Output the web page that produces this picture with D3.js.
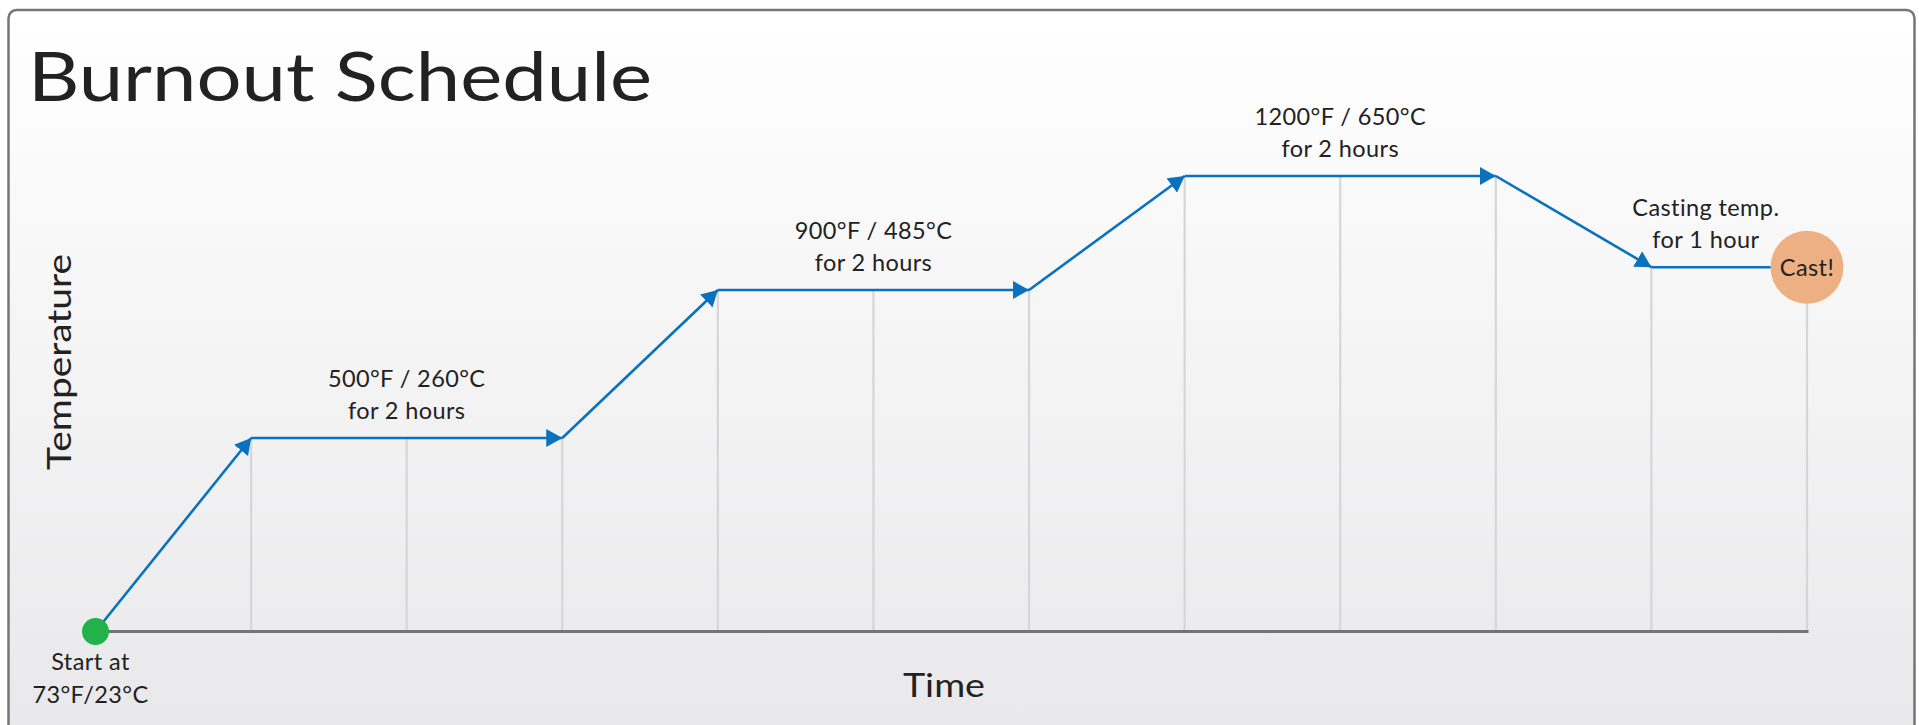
<!DOCTYPE html>
<html>
<head>
<meta charset="utf-8">
<script src="https://cdn.jsdelivr.net/npm/d3@7"></script>
<style>
  body { margin: 0; background: #ffffff; }
  text { font-family: "Lato", sans-serif; fill: #222222; }
</style>
</head>
<body>
<script>

// schedule points: hour on the time axis and oven temperature (°F)
const hours = [0, 1, 3, 4, 6, 7, 9, 10, 11];
const tempF = [73, 500, 500, 900, 900, 1200, 1200, 960, 960];

// hours that get a vertical guide line
const gridHours = [1, 2, 3, 4, 5, 6, 7, 8, 9, 10, 11];

// hold labels: hour they sit over, temperature of the hold, text lines
const labelHours = [2, 5, 8, 10.35];
const labelTemps = [500, 900, 1200, 960];
const labelLines = [
  ["500°F / 260°C", "for 2 hours"],
  ["900°F / 485°C", "for 2 hours"],
  ["1200°F / 650°C", "for 2 hours"],
  ["Casting temp.", "for 1 hour"]
];

const startLabel = ["Start at", "73°F/23°C"];
const endLabel = "Cast!";

const W = 1919, H = 725;

const svg = d3.select("body").append("svg")
    .attr("width", W)
    .attr("height", H)

const defs = svg.append("defs")

const grad = defs.append("linearGradient")
    .attr("id", "bg")
    .attr("x1", 0).attr("y1", 0).attr("x2", 0).attr("y2", 1)
grad.append("stop").attr("offset", "0%").attr("stop-color", "#ffffff")
grad.append("stop").attr("offset", "100%").attr("stop-color", "#e8e8ea")

defs.append("marker")
    .attr("id", "arrow")
    .attr("viewBox", "0 0 16 18")
    .attr("refX", 16)
    .attr("refY", 9)
    .attr("markerWidth", 16)
    .attr("markerHeight", 18)
    .attr("markerUnits", "userSpaceOnUse")
    .attr("orient", "auto")
  .append("path")
    .attr("d", "M0,0 L16,9 L0,18 Z")
    .attr("fill", "#0a71be")

// panel
svg.append("rect")
    .attr("x", 8.5)
    .attr("y", 10)
    .attr("width", 1906)
    .attr("height", 740)
    .attr("rx", 8)
    .attr("fill", "url(#bg)")
    .attr("stroke", "#757575")
    .attr("stroke-width", 2.5)

const x = d3.scaleLinear().domain([0, 11]).range([95.5, 1807])
// schematic temperature axis (not to scale in the source)
const y = d3.scaleLinear().domain([73, 500, 900, 1200]).range([631.5, 438, 290, 176])

// temperature of the profile at any hour
const profile = d3.scaleLinear().domain(hours).range(tempF)

svg.append("text")
    .attr("x", 28)
    .attr("y", 101)
    .attr("textLength", 624)
    .attr("lengthAdjust", "spacingAndGlyphs")
    .style("font-size", "68px")
    .text("Burnout Schedule")

// vertical guides
svg.selectAll(".grid")
    .data(gridHours)
    .join("line")
    .attr("class", "grid")
    .attr("x1", d => x(d))
    .attr("x2", d => x(d))
    .attr("y1", y(73))
    .attr("y2", d => y(profile(d)))
    .style("stroke", "#d6d6d8")
    .style("stroke-width", 2.2)

// time axis
svg.append("line")
    .attr("x1", x(0))
    .attr("x2", x(11) + 1.5)
    .attr("y1", y(73))
    .attr("y2", y(73))
    .style("stroke", "#747474")
    .style("stroke-width", 3)

// segments of the schedule
const segs = d3.range(hours.length - 1).map(i => ({
  x0: hours[i], t0: tempF[i], x1: hours[i + 1], t1: tempF[i + 1], last: i == hours.length - 2
}))

svg.selectAll(".seg")
    .data(segs)
    .join("line")
    .attr("class", "seg")
    .attr("x1", d => x(d.x0))
    .attr("y1", d => y(d.t0))
    .attr("x2", d => x(d.x1))
    .attr("y2", d => y(d.t1))
    .style("stroke", "#0a71be")
    .style("stroke-width", 2.6)
    .attr("marker-end", d => d.last ? null : "url(#arrow)")

// start dot
svg.append("circle")
    .attr("cx", x(hours[0]))
    .attr("cy", y(tempF[0]))
    .attr("r", 13.5)
    .attr("fill", "#23b14b")

// cast circle
const last = hours.length - 1
svg.append("circle")
    .attr("cx", x(hours[last]))
    .attr("cy", y(tempF[last]))
    .attr("r", 36.5)
    .attr("fill", "#edb083")

svg.append("text")
    .attr("x", x(hours[last]))
    .attr("y", y(tempF[last]) + 8.5)
    .attr("text-anchor", "middle")
    .style("font-size", "23.5px")
    .style("letter-spacing", "0.4px")
    .text(endLabel)

// hold labels
labelLines.forEach((lines, i) => {
  const t = svg.append("text")
      .attr("text-anchor", "middle")
      .style("font-size", "23.5px")
      .style("letter-spacing", "0.4px")
  lines.forEach((s, j) => {
    t.append("tspan")
        .attr("x", x(labelHours[i]))
        .attr("y", y(labelTemps[i]) - 19 - (lines.length - 1 - j) * 32)
        .text(s)
  })
})

// start label
const st = svg.append("text")
    .attr("text-anchor", "middle")
    .style("font-size", "23.5px")
    .style("letter-spacing", "0.4px")
startLabel.forEach((s, j) => {
  st.append("tspan")
      .attr("x", x(0) - 5)
      .attr("y", 670 + j * 33)
      .text(s)
})

// axis titles
svg.append("text")
    .attr("x", 944)
    .attr("y", 697)
    .attr("text-anchor", "middle")
    .attr("textLength", 82)
    .attr("lengthAdjust", "spacingAndGlyphs")
    .style("font-size", "32px")
    .text("Time")

svg.append("text")
    .attr("transform", "translate(71,362) rotate(-90)")
    .attr("text-anchor", "middle")
    .attr("textLength", 216)
    .attr("lengthAdjust", "spacingAndGlyphs")
    .style("font-size", "32px")
    .text("Temperature")

</script>
</body>
</html>
